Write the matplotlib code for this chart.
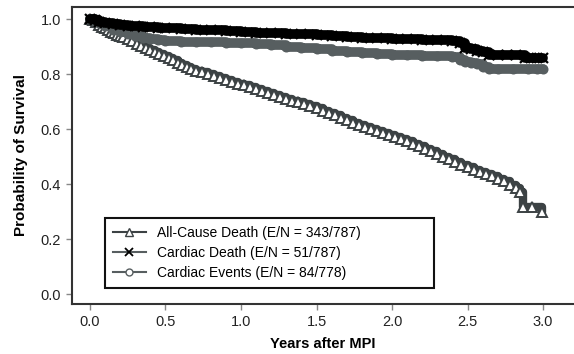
import matplotlib
matplotlib.use("Agg")
import matplotlib.pyplot as plt

plt.rcParams['font.family'] = ['Liberation Sans', 'DejaVu Sans']

# All-cause death (triangles)
all_t = [0.00, 0.02, 0.04, 0.06, 0.08, 0.10, 0.12, 0.14, 0.16, 0.18,
         0.20, 0.22, 0.25, 0.28, 0.31, 0.34, 0.37, 0.40, 0.43, 0.46,
         0.49, 0.52, 0.55, 0.58, 0.61, 0.64, 0.67, 0.70, 0.74, 0.78,
         0.82, 0.86, 0.90, 0.94, 0.98, 1.02, 1.06, 1.10, 1.14, 1.18,
         1.22, 1.26, 1.30, 1.34, 1.38, 1.42, 1.46, 1.50, 1.54, 1.58,
         1.62, 1.66, 1.70, 1.74, 1.78, 1.82, 1.86, 1.90, 1.94, 1.98,
         2.02, 2.06, 2.10, 2.14, 2.18, 2.22, 2.26, 2.30, 2.34, 2.38,
         2.42, 2.46, 2.50, 2.54, 2.58, 2.62, 2.66, 2.70, 2.74, 2.78,
         2.82, 2.85, 2.87, 2.93, 2.99]
all_s = [1.000, 0.995, 0.988, 0.980, 0.973, 0.966, 0.960, 0.954, 0.949, 0.944,
         0.940, 0.935, 0.929, 0.920, 0.911, 0.903, 0.895, 0.887, 0.880, 0.873,
         0.866, 0.858, 0.850, 0.842, 0.833, 0.825, 0.818, 0.812, 0.806, 0.800,
         0.793, 0.785, 0.777, 0.770, 0.765, 0.760, 0.753, 0.746, 0.739, 0.732,
         0.725, 0.717, 0.710, 0.703, 0.697, 0.690, 0.683, 0.675, 0.667, 0.659,
         0.650, 0.641, 0.632, 0.624, 0.616, 0.608, 0.600, 0.592, 0.585, 0.578,
         0.571, 0.563, 0.555, 0.547, 0.538, 0.529, 0.520, 0.510, 0.500, 0.490,
         0.480, 0.470, 0.461, 0.452, 0.444, 0.436, 0.428, 0.419, 0.410, 0.398,
         0.385, 0.370, 0.316, 0.316, 0.298]

# Cardiac death (x)
cd_t = [0.00, 0.03, 0.06, 0.10, 0.15, 0.20, 0.25, 0.30, 0.35, 0.40,
        0.45, 0.50, 0.60, 0.70, 0.80, 0.90, 1.00, 1.10, 1.20, 1.30,
        1.40, 1.50, 1.60, 1.70, 1.80, 1.90, 2.00, 2.10, 2.20, 2.30,
        2.40, 2.45, 2.48, 2.52, 2.56, 2.60, 2.64, 2.70, 2.76, 2.82,
        2.88, 2.92, 2.96, 3.00]
cd_s = [1.000, 0.995, 0.990, 0.986, 0.982, 0.979, 0.976, 0.974, 0.972, 0.970,
        0.969, 0.968, 0.965, 0.962, 0.959, 0.956, 0.953, 0.951, 0.949, 0.947,
        0.945, 0.942, 0.939, 0.936, 0.933, 0.931, 0.929, 0.927, 0.925, 0.923,
        0.919, 0.912, 0.896, 0.893, 0.885, 0.880, 0.870, 0.869, 0.869, 0.869,
        0.858, 0.858, 0.858, 0.858]

# Cardiac events (circles)
ce_t = [0.00, 0.03, 0.06, 0.10, 0.15, 0.20, 0.25, 0.30, 0.35, 0.40,
        0.45, 0.50, 0.60, 0.70, 0.80, 0.90, 1.00, 1.10, 1.20, 1.30,
        1.40, 1.50, 1.60, 1.70, 1.80, 1.90, 2.00, 2.10, 2.20, 2.30,
        2.40, 2.45, 2.48, 2.52, 2.56, 2.60, 2.64, 2.70, 2.80, 2.90,
        2.96, 3.00]
ce_s = [1.000, 0.993, 0.985, 0.975, 0.962, 0.953, 0.946, 0.939, 0.933, 0.928,
        0.924, 0.921, 0.918, 0.916, 0.915, 0.914, 0.912, 0.909, 0.905, 0.900,
        0.895, 0.890, 0.884, 0.879, 0.876, 0.873, 0.871, 0.869, 0.867, 0.865,
        0.862, 0.853, 0.844, 0.840, 0.835, 0.825, 0.818, 0.818, 0.818, 0.818,
        0.818, 0.818]

labels = ["All-Cause Death (E/N = 343/787)",
          "Cardiac Death (E/N = 51/787)",
          "Cardiac Events (E/N = 84/778)"]
x_ticks = [0.0, 0.5, 1.0, 1.5, 2.0, 2.5, 3.0]
y_ticks = [0.0, 0.2, 0.4, 0.6, 0.8, 1.0]

fig = plt.figure(figsize=(5.74, 3.54), dpi=100)
ax = fig.add_axes([72/574, 50/354, 502/574, 297/354])

c_all = '#3c4244'
c_cd = '#000000'
c_ce = '#575e60'

# thick bands
ax.step(all_t, all_s, where='post', color=c_all, lw=6, solid_capstyle='round', zorder=2)
ax.step(cd_t, cd_s, where='post', color=c_cd, lw=7, solid_capstyle='round', zorder=4)
ax.step(ce_t, ce_s, where='post', color=c_ce, lw=7, solid_capstyle='round', zorder=3)

ax.plot(all_t, all_s, ls='none', marker='^', ms=7, mfc='white', mec=c_all, mew=1.4, zorder=2.5)
ax.plot(cd_t, cd_s, ls='none', marker='x', ms=7, mec=c_cd, mew=1.6, zorder=4.5)
ax.plot(ce_t, ce_s, ls='none', marker='o', ms=6, mfc='none', mec=c_ce, mew=1.2, zorder=3.5)

# legend handles
h1, = ax.plot([], [], color=c_all, lw=1.5, marker='^', ms=6, mfc='white', mec=c_all)
h2, = ax.plot([], [], color=c_ce, lw=1.5, marker='x', ms=6, mec=c_cd, mew=1.3)
h3, = ax.plot([], [], color=c_ce, lw=1.5, marker='o', ms=5, mfc='white', mec=c_ce)
leg = ax.legend([h1, h2, h3], labels, loc='lower left',
                bbox_to_anchor=(0.066, 0.054, 0.655, 0.256), mode='expand',
                fontsize=10, handlelength=2.4, labelspacing=0.45,
                borderpad=0.55, fancybox=False, framealpha=1, borderaxespad=0)
leg.get_frame().set_edgecolor('#111111')
leg.get_frame().set_linewidth(1.5)

ax.set_xlim(-0.119, 3.205)
ax.set_ylim(-0.036, 1.044)
ax.set_xticks(x_ticks)
ax.set_xticklabels([f"{v:.1f}" for v in x_ticks])
ax.set_yticks(y_ticks)
ax.set_yticklabels([f"{v:.1f}" for v in y_ticks])

for s in ['left', 'bottom', 'top']:
    ax.spines[s].set_color('#333333')
    ax.spines[s].set_linewidth(1.5)
ax.spines['right'].set_visible(False)
ax.tick_params(axis='both', direction='out', length=4, width=1, color='#888888',
               labelsize=10.5, labelcolor='#222222')
ax.tick_params(axis='x', pad=4)
ax.tick_params(axis='y', pad=4)

ax.set_xlabel("Years after MPI", fontsize=10.5, fontweight='bold', labelpad=6)
ax.set_ylabel("Probability of Survival", fontsize=11, fontweight='bold', labelpad=9)

fig.savefig("out.png", dpi=100)
